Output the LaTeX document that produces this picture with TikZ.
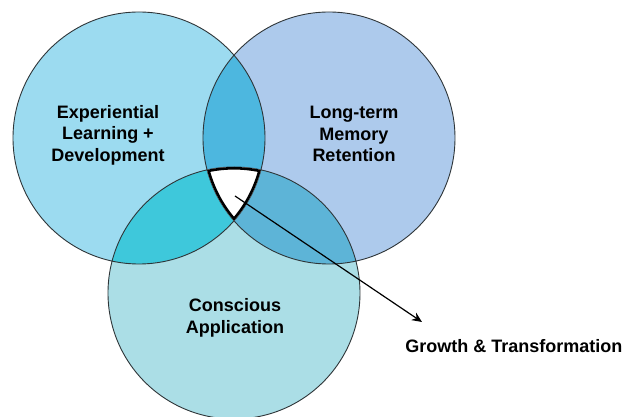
\documentclass[tikz,border=0pt]{standalone}
\usepackage{fontspec}
\setmainfont{Liberation Sans}
\usetikzlibrary{arrows.meta,positioning}
\definecolor{VennLeft}{HTML}{9CDBF0}
\definecolor{VennRight}{HTML}{ADCAEC}
\definecolor{VennBottom}{HTML}{ABDEE6}
\definecolor{VennLR}{HTML}{4DB7DF}
\definecolor{VennLB}{HTML}{3EC8DB}
\definecolor{VennRB}{HTML}{5DB4D7}
\definecolor{VennEdge}{HTML}{2E3538}

\begin{document}
\begin{tikzpicture}[x=0.5pt,y=0.5pt,
      ring/.style={draw=VennEdge,line width=0.45pt},
      core/.style={draw=black,line width=2.6pt},
      lbl/.style={font=\bfseries\fontsize{9}{10.75}\selectfont,align=center,inner sep=0pt},
      arrow/.style={-{Stealth[length=5pt,width=4.4pt]},line width=0.6pt}
    ]
      \useasboundingbox (0,0) rectangle (629,417);
      \coordinate (cl) at (139,279);
      \coordinate (cr) at (329,279);
      \coordinate (cb) at (234,124);
      \fill[VennLeft] (cl) circle[radius=126];
      \fill[VennRight] (cr) circle[radius=126];
      \fill[VennBottom] (cb) circle[radius=126];
      \begin{scope}
        \clip (cl) circle[radius=126];
        \fill[VennLR] (cr) circle[radius=126];
        \fill[VennLB] (cb) circle[radius=126];
      \end{scope}
      \begin{scope}
        \clip (cr) circle[radius=126];
        \fill[VennRB] (cb) circle[radius=126];
      \end{scope}
      \draw[ring] (cl) circle[radius=126] (cr) circle[radius=126] (cb) circle[radius=126];
      \begin{scope}
        \clip (cl) circle[radius=126];
        \clip (cr) circle[radius=126];
        \clip (cb) circle[radius=126];
        \fill[white] (cb) circle[radius=126];
        \draw[core] (cl) circle[radius=126] (cr) circle[radius=126] (cb) circle[radius=126];
      \end{scope}
      \node[lbl] (exp) at (108,282) {Experiential\\Learning +\\Development};
      \node[lbl] (mem) at (354,283) {Long-term\\Memory\\Retention};
      \node[lbl] (app) at (235,99) {Conscious\\Application};
      \coordinate (start) at (235,221);
      \coordinate (tip) at (422,95);
      \node[lbl,right=-17 of tip,yshift=-12] (grow) {Growth \& Transformation};
      \draw[arrow] (start) -- (tip);
    \end{tikzpicture}
\end{document}
